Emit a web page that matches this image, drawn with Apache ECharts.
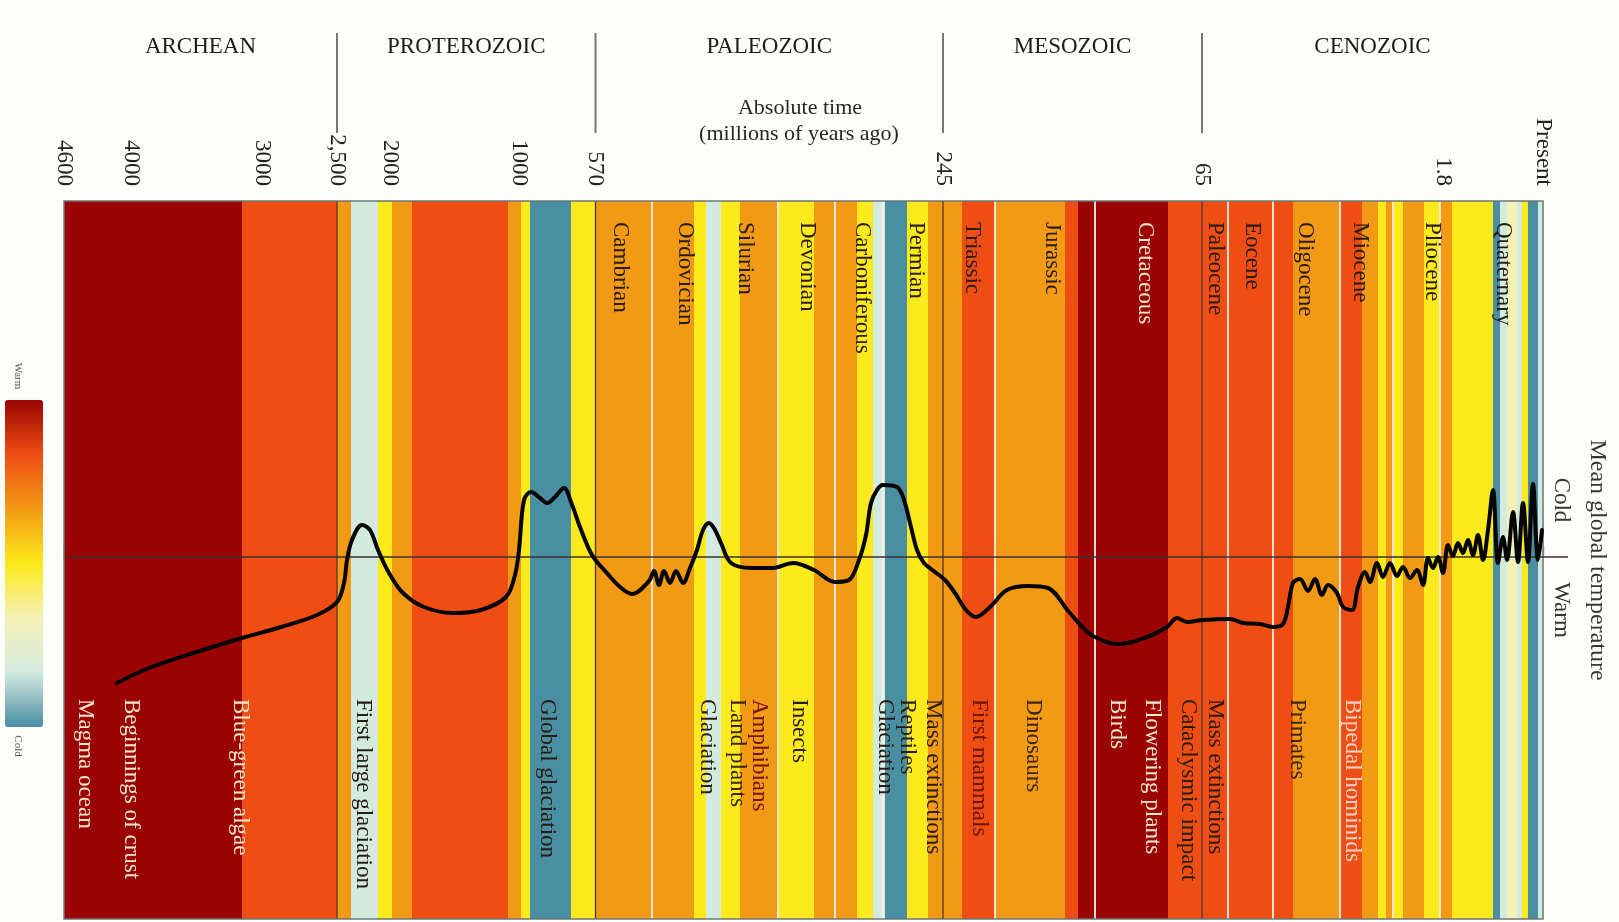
<!DOCTYPE html>
<html><head><meta charset="utf-8">
<script src="https://cdn.jsdelivr.net/npm/echarts@6/dist/echarts.min.js"></script>
<style>html,body{margin:0;padding:0;background:#fdfdf9}#c{width:1619px;height:922px}</style>
</head><body><div id="c"></div>
<script>
// ================= DATA =================
// Horizontal position along the (non-linear) time track, 0 = 4600 Ma, 1479 = Present
const tickPos = [0, 67, 198, 273, 326, 455, 531.5, 879, 1138, 1379, 1479];
const tickLabels = ['4600', '4000', '3000', '2,500', '2000', '1000', '570', '245', '65', '1.8', 'Present'];

const eraNames = ['ARCHEAN', 'PROTEROZOIC', 'PALEOZOIC', 'MESOZOIC', 'CENOZOIC'];
const eraBounds = [0, 273, 531.5, 879, 1138, 1479];

// colour bands: edges along the track, and warmth level (0 = cold ... 6 = warm)
const bandEdges = [0, 178, 273, 287, 314, 328, 348, 444, 457, 466, 507, 531.5, 630, 642, 657, 676, 715, 750, 793, 809, 821, 843, 864, 898, 931, 1001, 1014, 1104, 1229, 1276, 1298, 1314, 1322, 1330, 1339, 1360, 1376, 1388, 1429, 1436, 1443, 1453, 1458, 1464, 1474, 1479];
const bandWarmth = [6, 5, 4, 1, 3, 4, 5, 4, 3, 0, 3, 4, 3, 1, 3, 4, 3, 4, 3, 1, 0, 3, 4, 5, 4, 5, 6, 5, 4, 5, 4, 3, 4, 3, 4, 3, 4, 3, 0, 1, 2, 1, 3, 0, 1];

// period boundaries (thin pale lines)
const periodBounds = [588, 714, 771, 819, 931, 1031, 1164, 1209, 1276, 1329, 1376];

const periodNames = ['Cambrian', 'Ordovician', 'Silurian', 'Devonian', 'Carboniferous', 'Permian', 'Triassic', 'Jurassic', 'Cretaceous', 'Paleocene', 'Eocene', 'Oligocene', 'Miocene', 'Pliocene', 'Quaternary'];
const periodPos = [555.6, 621, 681, 743, 798, 852, 908.5, 988, 1081, 1151, 1188, 1241, 1296, 1368, 1439];

const eventNames = ['Magma ocean', 'Beginnings of crust', 'Blue-green algae', 'First large glaciation', 'Global glaciation', 'Glaciation', 'Land plants', 'Amphibians', 'Insects', 'Glaciation', 'Reptiles', 'Mass extinctions', 'First mammals', 'Dinosaurs', 'Birds', 'Flowering plants', 'Cataclysmic impact', 'Mass extinctions', 'Primates', 'Bipedal hominids'];
const eventPos = [21, 67, 176, 299, 483, 643, 673, 695, 735, 821, 843, 869, 915, 969, 1053, 1088, 1124, 1151, 1233, 1288];

// mean global temperature curve: [track position, deviation (positive = colder)]
const tempCurve = [
  [53,-126],[85,-111],[139,-93],[178,-81],[217,-70],[253,-58],[273,-45],[280,-26],[283,-3],[288,17],[298,32],[306,27],[314,7],[325,-16],[339,-36],[360,-50],[389,-56],[417,-53],[442,-40],[451,-18],[455,7],[460,57],[467,65],[476,59],[483,54],[491,60],[500,69],[507,55],[516,30],[528,2],[542,-15],[556,-30],[568,-37],[585,-24],[590,-14],[595,-28],[600,-14],[606,-26],[612,-14],[619,-26],[626,-11],[633,7],[639,27],[645,34],[651,27],[657,14],[667,-6],[688,-11],[709,-11],[729,-6],[750,-13],[771,-25],[785,-23],[795,-3],[802,22],[807,54],[813,67],[819,72],[833,70],[840,57],[847,30],[853,7],[860,-6],[871,-15],[881,-23],[891,-36],[902,-53],[912,-60],[926,-50],[943,-33],[964,-29],[984,-31],[1005,-55],[1026,-77],[1046,-86],[1056,-87],[1083,-80],[1103,-70],[1113,-61],[1123,-65],[1139,-63],[1166,-62],[1179,-66],[1196,-67],[1209,-70],[1219,-67],[1224,-50],[1229,-26],[1236,-22],[1244,-34],[1251,-22],[1258,-38],[1264,-28],[1273,-36],[1279,-50],[1288,-53],[1294,-30],[1301,-15],[1306,-25],[1313,-6],[1319,-20],[1326,-6],[1333,-19],[1339,-10],[1346,-21],[1353,-13],[1359,-28],[1364,-1],[1369,-11],[1374,0],[1379,-16],[1384,12],[1389,1],[1394,14],[1399,4],[1404,17],[1409,2],[1414,22],[1419,-3],[1424,27],[1429,67],[1434,-6],[1439,20],[1443,-3],[1449,45],[1454,-5],[1459,54],[1464,-5],[1469,73],[1474,-3],[1478,27]
];

// ================= STYLE =================
const SERIF = '"Liberation Serif", "DejaVu Serif", serif';
const warmthColors = ['#4a8ea2', '#d3eadf', '#f4f0b6', '#fcea1c', '#f39a14', '#ee4d14', '#9a0402'];
const tones = { dark: '#261c12', brown: '#3f2306', red: '#6e1400', light: '#f6e6cc', pink: '#fbd2c2' };
const periodTone = ['dark','dark','dark','dark','dark','dark','dark','dark','light','dark','dark','dark','dark','dark','dark'];
const eventTone = ['light','light','light','dark','dark','dark','brown','red','dark','dark','dark','dark','red','brown','light','light','dark','dark','brown','pink'];

function vtext(x, y, text, fill, size, align) {
  const a = align || 'left';
  return { type: 'text', x: x, y: y, rotation: -Math.PI / 2,
    style: { text: text, fill: fill, font: size + 'px ' + SERIF,
      textAlign: a, align: a, textVerticalAlign: 'middle', verticalAlign: 'middle' } };
}
function htext(x, y, text, fill, size) {
  return { type: 'text', x: x, y: y,
    style: { text: text, fill: fill, font: size + 'px ' + SERIF,
      textAlign: 'center', align: 'center', textVerticalAlign: 'middle', verticalAlign: 'middle' } };
}

const bandData = bandWarmth.map((w, i) => [bandEdges[i], bandEdges[i + 1], w]);
const Y_MIN = -362, Y_MAX = 356;

const chart = echarts.init(document.getElementById('c'));

const option = {
  backgroundColor: '#fdfdf9',
  animation: false,
  grid: { left: 64, top: 201, width: 1479, height: 718, containLabel: false, outerBoundsMode: 'none' },
  xAxis: {
    type: 'value', position: 'top', min: 0, max: 1479,
    axisLine: { show: true, lineStyle: { color: '#4a4040', width: 1.5 } },
    axisTick: { show: true, customValues: tickPos, length: 11, lineStyle: { color: '#555', width: 1.3 } },
    axisLabel: { show: true, customValues: tickPos, rotate: -90, margin: 15,
      formatter: v => tickLabels[tickPos.indexOf(v)],
      fontFamily: SERIF, fontSize: 23, color: '#222' },
    splitLine: { show: false }
  },
  yAxis: { type: 'value', min: Y_MIN, max: Y_MAX, show: false },
  visualMap: {
    type: 'continuous', seriesIndex: 0, dimension: 2, min: 0, max: 6,
    orient: 'vertical', left: 5, top: 400, padding: 0,
    itemWidth: 38, itemHeight: 327, calculable: false, hoverLink: false,
    inRange: { color: warmthColors }
  },
  series: [
    { // colour bands
      type: 'custom', name: 'bands', z: 1,
      dimensions: ['start', 'end', 'warmth'],
      encode: { x: [0, 1] },
      data: bandData,
      renderItem: function (params, api) {
        const p0 = api.coord([api.value(0), Y_MAX]);
        const p1 = api.coord([api.value(1), Y_MIN]);
        return { type: 'rect', shape: { x: p0[0], y: p0[1], width: p1[0] - p0[0] + 0.6, height: p1[1] - p0[1] },
          style: { fill: api.visual('color') } };
      }
    },
    { // period boundaries
      type: 'custom', name: 'periodBounds', z: 2,
      data: periodBounds.map(v => [v, 0]),
      renderItem: function (params, api) {
        const t = api.coord([api.value(0), Y_MAX]);
        const b = api.coord([api.value(0), Y_MIN]);
        return { type: 'line', shape: { x1: t[0], y1: t[1], x2: b[0], y2: b[1] },
          style: { stroke: 'rgba(255,238,232,0.9)', lineWidth: 2 } };
      }
    },
    { // era boundaries
      type: 'custom', name: 'eraLines', z: 3, clip: false,
      data: eraBounds.slice(1, -1).map(v => [v, 0]),
      renderItem: function (params, api) {
        const t = api.coord([api.value(0), Y_MAX]);
        const b = api.coord([api.value(0), Y_MIN]);
        return { type: 'group', children: [
          { type: 'line', shape: { x1: t[0], y1: t[1], x2: b[0], y2: b[1] }, style: { stroke: '#4a3833', lineWidth: 1.3 } },
          { type: 'line', shape: { x1: t[0], y1: t[1] - 168, x2: t[0], y2: t[1] - 68 }, style: { stroke: '#7a7676', lineWidth: 2 } }
        ] };
      }
    },
    { // frame and mean line
      type: 'custom', name: 'frame', z: 3, clip: false,
      data: [[0, 0]],
      renderItem: function (params, api) {
        const cs = params.coordSys;
        const m = api.coord([0, 0]);
        return { type: 'group', children: [
          { type: 'rect', shape: { x: cs.x, y: cs.y, width: cs.width, height: cs.height },
            style: { fill: null, stroke: '#6e777b', lineWidth: 1.5 } },
          { type: 'line', shape: { x1: cs.x + 3, y1: m[1], x2: cs.x + cs.width + 25, y2: m[1] },
            style: { stroke: '#3a3030', lineWidth: 1.5 } }
        ] };
      }
    },
    { // era titles
      type: 'custom', name: 'eras', z: 4, clip: false,
      data: eraNames.map((n, i) => [(eraBounds[i] + eraBounds[i + 1]) / 2, 0]),
      renderItem: function (params, api) {
        const p = api.coord([api.value(0), Y_MAX]);
        return htext(p[0], p[1] - 154, eraNames[params.dataIndex], '#1f1b1b', 23);
      }
    },
    { // period labels
      type: 'custom', name: 'periods', z: 4,
      data: periodPos.map(v => [v, 0]),
      renderItem: function (params, api) {
        const p = api.coord([api.value(0), Y_MAX]);
        return vtext(p[0], p[1] + 21, periodNames[params.dataIndex], tones[periodTone[params.dataIndex]], 23);
      }
    },
    { // event labels
      type: 'custom', name: 'events', z: 4,
      data: eventPos.map(v => [v, 0]),
      renderItem: function (params, api) {
        const p = api.coord([api.value(0), Y_MIN]);
        return vtext(p[0], p[1] - 220, eventNames[params.dataIndex], tones[eventTone[params.dataIndex]], 23);
      }
    },
    { // temperature curve
      type: 'line', name: 'temperature', z: 5,
      data: tempCurve, showSymbol: false, symbol: 'none', smooth: 0.35,
      lineStyle: { color: '#050505', width: 4, join: 'round', cap: 'round' }
    }
  ],
  graphic: [
    htext(800, 108, 'Absolute time', '#2a2626', 22),
    htext(799, 134, '(millions of years ago)', '#2a2626', 22),
    vtext(1597, 560, 'Mean global temperature', '#3a3636', 24, 'center'),
    vtext(1561, 500, 'Cold', '#3a3636', 23, 'center'),
    vtext(1561, 610, 'Warm', '#3a3636', 23, 'center'),
    vtext(18, 376, 'Warm', '#555', 11, 'center'),
    vtext(18, 746, 'Cold', '#555', 11, 'center')
  ]
};
chart.setOption(option);
</script>
</body></html>
